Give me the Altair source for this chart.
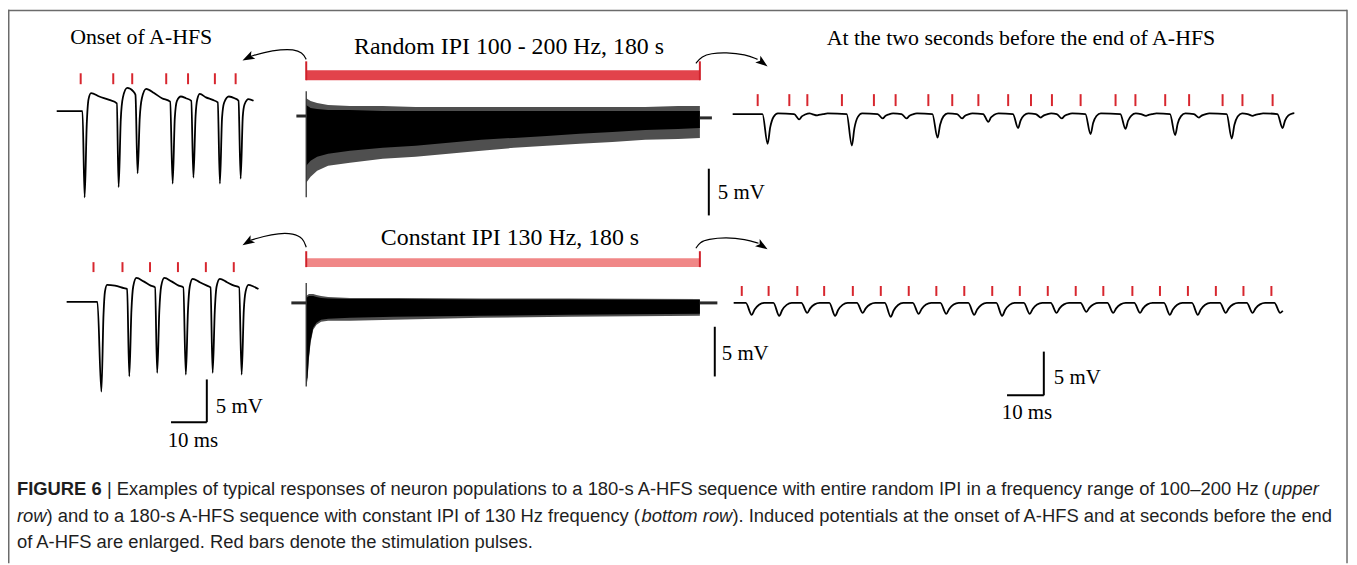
import altair as alt
import pandas as pd
import math

# ================= values =================
# Onset of A-HFS, random IPI (upper row): time (ms), potential (mV)
TL_T = [0, 7.2, 7.8, 8.4, 8.9, 9.6, 11.9, 14.7, 16.8,
        17.3, 17.9, 18.5, 19.7, 21.4, 22.0,
        22.6, 23.2, 23.8, 25.0, 27.2, 29.4, 31.7,
        32.4, 33.0, 33.6, 34.7, 36.1, 37.6,
        38.2, 38.8, 39.3, 40.0, 41.7, 43.6, 45.0,
        45.6, 46.2, 46.8, 48.1, 49.7, 50.8,
        51.4, 52.0, 52.5, 53.6, 55.0]
TL_V = [0, 0, -10.1, -1.5, 1.4, 2.1, 1.7, 1.3, 0.9,
        -8.9, -1.0, 1.6, 2.7, 2.3, 1.9,
        -7.3, -0.8, 1.5, 2.6, 2.1, 1.5, 1.1,
        -8.5, -0.8, 1.2, 1.7, 1.5, 1.2,
        -7.8, -0.6, 1.4, 2.0, 1.6, 1.3, 1.0,
        -8.5, -0.8, 1.0, 1.7, 1.5, 1.2,
        -7.9, -0.6, 0.8, 1.4, 1.2]
TL_PULSES = [6.7, 15.8, 21.1, 30.6, 36.7, 44.2, 50.0]

# Onset of A-HFS, constant IPI 130 Hz (bottom row)
BL_T = [0, 8.6, 9.7, 10.3, 10.7, 11.3, 13.5, 16.0, 16.9,
        17.5, 18.1, 18.6, 19.5, 21.5, 23.5, 24.7,
        25.3, 25.9, 26.4, 27.3, 29.3, 31.3, 32.6,
        33.3, 33.9, 34.4, 35.2, 37.2, 39.2, 40.2,
        40.8, 41.4, 41.9, 42.8, 44.8, 46.8, 48.2,
        48.9, 49.5, 50.0, 50.8, 52.2, 53.6]
BL_V = [0, 0, -10.5, -1.5, 1.2, 2.0, 1.9, 1.6, 1.5,
        -8.7, -1.0, 1.8, 2.8, 2.4, 1.9, 1.7,
        -8.3, -1.0, 1.8, 2.8, 2.4, 1.9, 1.7,
        -8.5, -1.0, 1.8, 2.7, 2.3, 1.9, 1.7,
        -8.3, -1.0, 1.8, 2.7, 2.3, 1.9, 1.7,
        -8.5, -1.0, 1.2, 2.0, 1.8, 1.5]
BL_PULSES = [7.5, 15.6, 23.3, 31.1, 38.9, 46.7]

# Two seconds before the end, random IPI: pulses (ms), response troughs (ms, mV)
TR_PULSES = [6.8, 15.4, 20.3, 29.7, 38.4, 44.3, 53.2, 59.7, 66.8, 74.9,
             81.1, 86.8, 94.6, 104.1, 109.5, 117.6, 124.1, 133.2, 138.6, 146.8]
TR_TROUGH_T = [9.5, 18.1, 23.0, 32.4, 40.8, 47.3, 55.7, 62.4, 69.5, 77.6,
               83.8, 89.5, 97.3, 106.8, 112.4, 120.3, 126.8, 135.7, 141.4, 149.5]
TR_TROUGH_V = [-3.4, -0.6, -0.15, -3.6, -0.5, -0.5, -2.7, -0.5, -0.9, -1.6,
               -0.4, -0.5, -2.3, -1.7, -0.2, -2.4, -0.4, -2.8, -0.2, -1.6]
TR_END = (152.7, 0.1)

# Two seconds before the end, constant IPI
BR_PULSES = [2.2, 9.5, 17.3, 24.6, 32.4, 40.0, 47.6, 55.1, 62.7, 70.3,
             77.8, 85.4, 93.0, 100.5, 108.4, 115.9, 123.5, 131.1, 138.6, 146.2]
BR_TROUGH_T = [4.9, 12.4, 20.0, 27.6, 35.1, 42.7, 50.3, 57.8, 65.4, 73.0,
               80.5, 87.8, 95.9, 103.2, 110.5, 118.6, 126.2, 133.8, 141.1, 148.6]
BR_TROUGH_V = [-1.36, -1.48, -1.14, -1.48, -1.14, -1.59, -1.25, -1.25, -1.36, -1.48,
               -1.25, -1.14, -1.02, -1.14, -1.14, -1.36, -1.36, -1.14, -1.14, -1.14]
BR_END = (149.3, -0.9)

# Whole 180 s sequence, random IPI: envelopes (time s, mV)
TM_T = [0, 2, 5, 10, 20, 35, 50, 65, 80, 95, 110, 125, 140, 155, 170, 180]
TM_TIP_HI = [1.91, 1.60, 1.38, 1.17, 1.06, 1.06, 0.96, 0.96, 0.96, 0.96, 0.96, 0.96, 0.96, 0.96, 1.06, 1.06]
TM_CORE_HI = [1.17, 0.85, 0.74, 0.64, 0.64, 0.53, 0.53, 0.53, 0.53, 0.53, 0.53, 0.53, 0.53, 0.53, 0.53, 0.53]
TM_CORE_LO = [-5.32, -4.79, -4.36, -4.04, -3.72, -3.40, -3.19, -2.87, -2.55, -2.34, -2.13, -1.91, -1.70, -1.49, -1.38, -1.28]
TM_TIP_LO = [-7.13, -6.49, -5.85, -5.32, -5.00, -4.57, -4.36, -4.04, -3.72, -3.40, -3.19, -2.98, -2.77, -2.55, -2.45, -2.34]
TM_ARTIFACT = (2.66, -8.7)
TM_PRE = (-4.5, 0.0)
TM_POST = (185.5, -0.2)

# Whole 180 s sequence, constant IPI
BM_T = [0, 0.6, 1.2, 2.0, 3.2, 4.7, 6.8, 10, 20, 40, 80, 120, 180]
BM_TIP_HI = [0.7, 0.8, 0.9, 0.9, 0.9, 0.8, 0.7, 0.6, 0.5, 0.5, 0.45, 0.45, 0.4]
BM_CORE_HI = [0.5, 0.6, 0.7, 0.7, 0.7, 0.6, 0.5, 0.45, 0.4, 0.4, 0.35, 0.35, 0.3]
BM_CORE_LO = [-7.9, -7.5, -5.5, -3.8, -2.5, -2.0, -1.7, -1.6, -1.5, -1.4, -1.3, -1.2, -1.1]
BM_TIP_LO = [-8.4, -7.7, -5.7, -4.0, -2.7, -2.2, -1.9, -1.8, -1.8, -1.7, -1.5, -1.4, -1.3]
BM_ARTIFACT = (2.0, -8.4)
BM_PRE = (-6.8, 0.0)
BM_POST = (188.0, 0.0)

STIM_DURATION = 180  # s
SCALE_MS = 10
SCALE_MV = 5

TITLES = ["Onset of A-HFS", "Random IPI 100 - 200 Hz, 180 s",
          "At the two seconds before the end of A-HFS", "Constant IPI 130 Hz, 180 s"]

CAPTION = [
    [("FIGURE 6", "bold"),
     (" | Examples of typical responses of neuron populations to a 180-s A-HFS sequence with entire random IPI in a frequency range of 100\u2013200 Hz (", "normal"),
     ("upper", "italic")],
    [("row", "italic"),
     (") and to a 180-s A-HFS sequence with constant IPI of 130 Hz frequency (", "normal"),
     ("bottom row", "italic"),
     ("). Induced potentials at the onset of A-HFS and at seconds before the end", "normal")],
    [("of A-HFS are enlarged. Red bars denote the stimulation pulses.", "normal")],
]

# ================= layout (figure pixels) =================
W, H = 1349, 557
# panel: x origin, y of 0 mV, px per time unit, px per mV
PANEL = {
    "TL": (57, 110, 3.6, 8.6),
    "BL": (67, 302, 3.6, 8.6),
    "TR": (737, 113, 3.7, 8.8),
    "BR": (738, 303, 3.7, 8.8),
    "TM": (308, 115, 2.2, 9.4),
    "BM": (308, 303, 2.2, 10.0),
}
TICK_Y = {"TL": (72, 83), "BL": (262, 272), "TR": (93, 105), "BR": (286, 296)}
BAR_Y = {"TM": (69, 79, 60), "BM": (258, 267, 251)}


def fx(p, t):
    return PANEL[p][0] + t * PANEL[p][2]


def fy(p, v):
    return PANEL[p][1] - v * PANEL[p][3]


def end_trace(tt, vv, end, shape):
    pts = [(0.0, 0.0)]
    for a, b in zip(tt, vv):
        for dt, frac, add in shape:
            pts.append((a + dt, b * frac + add))
    pts = [q for q in pts if q[0] < end[0]]
    pts.append(end)
    return pts


TR_SHAPE = [(-1.4, 0, 0.0), (0, 1, 0), (0.7, 0.45, 0), (1.6, 0.1, 0), (2.8, 0, 0.08)]
BR_SHAPE = [(-1.6, 0, 0), (0, 1, 0), (0.8, 0.55, 0), (2.0, 0.15, 0), (3.4, 0, 0.0)]

XS = alt.Scale(domain=[8, 8 + W], nice=False, zero=False)
YS = alt.Scale(domain=[8, 8 + H], nice=False, zero=False, reverse=True)
XE = alt.X("x:Q", scale=XS, axis=None)
YE = alt.Y("y:Q", scale=YS, axis=None)

layers = []

# ---- frame
frame = pd.DataFrame([
    dict(x=8, x2=1355, y=8.75, y2=8.75),
    dict(x=8.75, x2=8.75, y=8, y2=565),
    dict(x=1355, x2=1355, y=8, y2=565),
])
layers.append(alt.Chart(frame).mark_rule(color="#6b6b6b", strokeWidth=1.5)
              .encode(XE, YE, x2="x2:Q", y2="y2:Q"))

# ---- stimulation bars (whole sequence)
bars, bar_ends = [], []
for p, col in (("TM", "#e2434b"), ("BM", "#f08787")):
    y1, y2, yt = BAR_Y[p]
    bars.append(dict(x=fx(p, 0), x2=fx(p, STIM_DURATION), y=y1, y2=y2, c=col))
    for t in (0, STIM_DURATION):
        bar_ends.append(dict(x=fx(p, t), y=yt, y2=y2))
layers.append(alt.Chart(pd.DataFrame(bars)).mark_rect()
              .encode(XE, YE, x2="x2:Q", y2="y2:Q", color=alt.Color("c:N", scale=None)))
layers.append(alt.Chart(pd.DataFrame(bar_ends)).mark_rule(color="#d0212a", strokeWidth=2)
              .encode(XE, YE, y2="y2:Q"))

# ---- stimulation pulse ticks (enlarged panels)
ticks = []
for p, pulses in (("TL", TL_PULSES), ("BL", BL_PULSES), ("TR", TR_PULSES), ("BR", BR_PULSES)):
    for t in pulses:
        ticks.append(dict(x=fx(p, t), y=TICK_Y[p][0], y2=TICK_Y[p][1]))
layers.append(alt.Chart(pd.DataFrame(ticks)).mark_rule(color="#d7262e", strokeWidth=2)
              .encode(XE, YE, y2="y2:Q"))

# ---- enlarged traces
rows = []
traces = {
    "TL": list(zip(TL_T, TL_V)),
    "BL": list(zip(BL_T, BL_V)),
    "TR": end_trace(TR_TROUGH_T, TR_TROUGH_V, TR_END, TR_SHAPE),
    "BR": end_trace(BR_TROUGH_T, BR_TROUGH_V, BR_END, BR_SHAPE),
}
for p, pts in traces.items():
    for i, (t, v) in enumerate(pts):
        rows.append(dict(x=fx(p, t), y=fy(p, v), g=p, o=i))
layers.append(alt.Chart(pd.DataFrame(rows)).mark_line(interpolate="monotone", color="black", strokeWidth=1.8)
              .encode(XE, YE, detail="g:N", order="o:Q"))

# ---- whole-sequence envelopes
env_outer, env_core = [], []
for p, T, th, ch, cl, tl in (("TM", TM_T, TM_TIP_HI, TM_CORE_HI, TM_CORE_LO, TM_TIP_LO),
                              ("BM", BM_T, BM_TIP_HI, BM_CORE_HI, BM_CORE_LO, BM_TIP_LO)):
    for i, t in enumerate(T):
        env_outer.append(dict(x=fx(p, t), y=fy(p, tl[i]), y2=fy(p, th[i]), g=p))
        env_core.append(dict(x=fx(p, t), y=fy(p, cl[i]), y2=fy(p, ch[i]), g=p))
layers.append(alt.Chart(pd.DataFrame(env_outer)).mark_area(color="#4f4f4f")
              .encode(XE, YE, y2="y2:Q", detail="g:N"))
layers.append(alt.Chart(pd.DataFrame(env_core)).mark_area(color="black")
              .encode(XE, YE, y2="y2:Q", detail="g:N"))

art = []
for p, (a, b) in (("TM", TM_ARTIFACT), ("BM", BM_ARTIFACT)):
    art.append(dict(x=fx(p, 0), y=fy(p, a), y2=fy(p, b)))
layers.append(alt.Chart(pd.DataFrame(art)).mark_rule(color="#333333", strokeWidth=1.3)
              .encode(XE, YE, y2="y2:Q"))

prepost = []
for p, pre, post in (("TM", TM_PRE, TM_POST), ("BM", BM_PRE, BM_POST)):
    prepost += [dict(x=fx(p, pre[0]), y=fy(p, pre[1]), g=p + "a"),
                dict(x=fx(p, 0), y=fy(p, pre[1]), g=p + "a"),
                dict(x=fx(p, STIM_DURATION), y=fy(p, post[1]), g=p + "b"),
                dict(x=fx(p, post[0]), y=fy(p, post[1]), g=p + "b")]
layers.append(alt.Chart(pd.DataFrame(prepost)).mark_line(color="#2a2a2a", strokeWidth=3)
              .encode(XE, YE, detail="g:N"))

# ---- curved arrows
ARROWS = [
    ([(308, 58), (304, 51), (295, 48), (283, 48), (265, 51), (252, 55)], (244, 59), 243),
    ([(700, 62), (706, 55), (715, 52), (730, 51), (750, 53), (762, 58)], (772, 65), 127),
    ([(308, 247), (305, 238), (295, 233), (280, 233), (265, 236), (252, 240)], (244, 245), 238),
    ([(700, 248), (704, 242), (712, 239), (730, 237), (750, 239), (763, 243)], (772, 249), 123),
]
arr_rows, head_rows = [], []
for k, (pts, tip, ang) in enumerate(ARROWS):
    for i, (x, y) in enumerate(pts):
        arr_rows.append(dict(x=x, y=y, g=k, o=i))
    dx, dy = math.sin(math.radians(ang)), -math.cos(math.radians(ang))
    head_rows.append(dict(x=tip[0] - 6 * dx, y=tip[1] - 6 * dy, a=ang))
layers.append(alt.Chart(pd.DataFrame(arr_rows)).mark_line(interpolate="basis", color="black", strokeWidth=1.2)
              .encode(XE, YE, detail="g:N", order="o:Q"))
layers.append(alt.Chart(pd.DataFrame(head_rows))
              .mark_point(shape="M0,-1L0.7,1L0,0.55L-0.7,1Z", filled=True, opacity=1, color="black", size=150, strokeWidth=0)
              .encode(XE, YE, angle=alt.Angle("a:Q", scale=None)))

# ---- scale bars
sb = []
for p, x, ytop in (("TM", 713, 168), ("BM", 719, 327)):
    sb.append(dict(x=x, x2=x, y=ytop, y2=ytop + SCALE_MV * PANEL[p][3]))
for p, cx, cy in (("BL", 208, 423), ("BR", 1050, 396)):
    sb.append(dict(x=cx, x2=cx, y=cy - SCALE_MV * PANEL[p][3], y2=cy))
    sb.append(dict(x=cx - SCALE_MS * PANEL[p][2], x2=cx, y=cy, y2=cy))
layers.append(alt.Chart(pd.DataFrame(sb)).mark_rule(color="black", strokeWidth=2)
              .encode(XE, YE, x2="x2:Q", y2="y2:Q"))

# ---- serif labels
lab = [
    dict(x=142, y=43, s=22, t=TITLES[0]),
    dict(x=512, y=53, s=24, t=TITLES[1]),
    dict(x=1027, y=44, s=22, t=TITLES[2]),
    dict(x=513, y=245, s=24, t=TITLES[3]),
]
lab_left = [
    dict(x=722, y=198, s=21, t=f"{SCALE_MV} mV"),
    dict(x=726, y=360, s=21, t=f"{SCALE_MV} mV"),
    dict(x=217, y=414, s=21, t=f"{SCALE_MV} mV"),
    dict(x=1060, y=385, s=21, t=f"{SCALE_MV} mV"),
]
lab_c2 = [
    dict(x=194, y=448, s=21, t=f"{SCALE_MS} ms"),
    dict(x=1033, y=420, s=21, t=f"{SCALE_MS} ms"),
]
for data, al in ((lab, "center"), (lab_left, "left"), (lab_c2, "center")):
    layers.append(alt.Chart(pd.DataFrame(data))
                  .mark_text(font="Liberation Serif", align=al, baseline="alphabetic", color="black")
                  .encode(XE, YE, text="t:N", size=alt.Size("s:Q", scale=None)))

# ---- caption (Liberation Sans has Arial metrics)
AW = {' ': 278, '!': 278, '(': 333, ')': 333, ',': 278, '-': 333, '.': 278, '|': 260, '\u2013': 556,
      'A': 667, 'B': 667, 'C': 722, 'D': 722, 'E': 667, 'F': 611, 'G': 778, 'H': 722, 'I': 278,
      'J': 500, 'K': 667, 'L': 556, 'M': 833, 'N': 722, 'O': 778, 'P': 667, 'Q': 778, 'R': 722,
      'S': 667, 'T': 611, 'U': 722, 'V': 667, 'W': 944, 'X': 667, 'Y': 667, 'Z': 611,
      'a': 556, 'b': 556, 'c': 500, 'd': 556, 'e': 556, 'f': 278, 'g': 556, 'h': 556, 'i': 222,
      'j': 222, 'k': 500, 'l': 222, 'm': 833, 'n': 556, 'o': 556, 'p': 556, 'q': 556, 'r': 333,
      's': 500, 't': 278, 'u': 556, 'v': 500, 'w': 722, 'x': 500, 'y': 500, 'z': 500}
CAP_SIZE = 18.5
CAP_X = 17
CAP_Y = [496, 523, 550]


def tw(s):
    return sum(AW.get(c, 556) for c in s) * CAP_SIZE / 1000


cap_rows = {"normal": [], "bold": [], "italic": []}
for line, y in zip(CAPTION, CAP_Y):
    x = CAP_X
    for txt, sty in line:
        lead = len(txt) - len(txt.lstrip(" "))
        x += tw(" " * lead)  # SVG collapses leading spaces: advance instead
        body = txt.lstrip(" ")
        cap_rows[sty].append(dict(x=x, y=y, t=body))
        x += tw(body)
for sty, data in cap_rows.items():
    kw = dict(font="Liberation Sans", fontSize=CAP_SIZE, align="left", baseline="alphabetic", color="#1e1e1e")
    if sty == "bold":
        kw["fontWeight"] = "bold"
    if sty == "italic":
        kw["fontStyle"] = "italic"
    layers.append(alt.Chart(pd.DataFrame(data)).mark_text(**kw).encode(XE, YE, text="t:N"))

chart = (alt.layer(*layers)
         .properties(width=W, height=H, padding=0, autosize=alt.AutoSizeParams(type="none"), background="white")
         .configure_view(stroke=None))

chart.save("out.html", embed_options={"renderer": "svg", "actions": False})
